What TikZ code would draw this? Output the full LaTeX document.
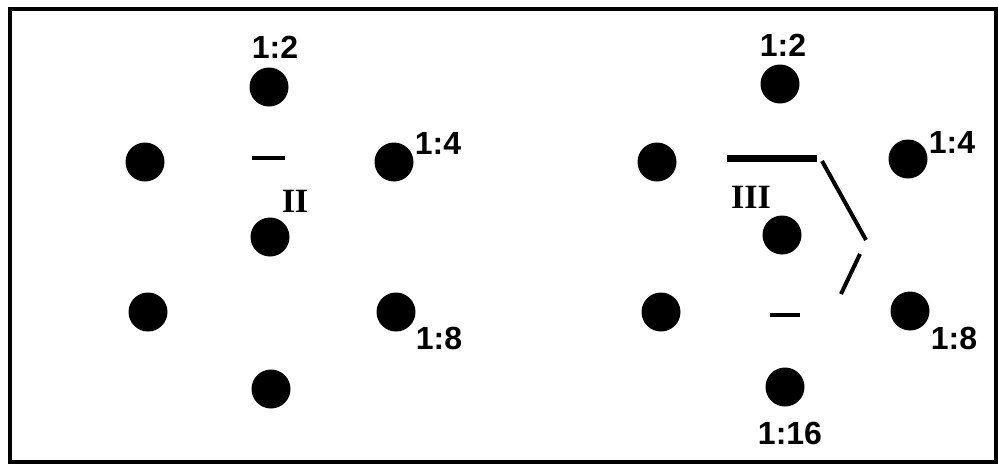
\documentclass[tikz,border=0pt]{standalone}
\usepackage{fontspec}
\setmainfont{Liberation Sans}
\newfontfamily\romfont{Liberation Serif}
\usetikzlibrary{positioning}

\begin{document}
\begin{tikzpicture}[x=0.5pt,y=-0.5pt,
  spot/.style={circle,fill=black,inner sep=0pt,minimum size=19.5pt},
  ratio/.style={font={\bfseries\fontsize{16}{18}\selectfont},inner sep=0pt},
  numeral/.style={font={\romfont\bfseries\fontsize{17}{18}\selectfont},inner sep=0pt},
  bar/.style={line width=2pt}]
\useasboundingbox (0,0) rectangle (998,467);
\draw[line width=2pt] (10,9) rectangle (996,462);
% left pattern
\node[spot] (ltop) at (269,87) {};
\node[spot] (lul) at (145,162) {};
\node[spot] (lur) at (394,162) {};
\node[spot] (lmid) at (270,237) {};
\node[spot] (lll) at (148,312) {};
\node[spot] (llr) at (396,312) {};
\node[spot] (lbot) at (271,389) {};
\node[ratio] (ltoplab) at (275,47) {1:2};
\node[ratio] (lurlab) at (438,143) {1:4};
\node[ratio] (llrlab) at (439,338) {1:8};
\node[numeral] (lnum) at (295,201) {II};
\draw[bar] (252,158) -- (285,158);
% right pattern
\node[spot] (rtop) at (780,84) {};
\node[spot] (rul) at (657,162) {};
\node[spot] (rur) at (908,159) {};
\node[spot] (rmid) at (782,235) {};
\node[spot] (rll) at (661,312) {};
\node[spot] (rlr) at (910,311) {};
\node[spot] (rbot) at (785,387) {};
\node[ratio] (rtoplab) at (783,45) {1:2};
\node[ratio] (rurlab) at (952,142) {1:4};
\node[ratio] (rlrlab) at (954,338) {1:8};
\node[ratio] (rbotlab) at (790,433) {1:16};
\node[numeral] (rnum) at (751,197) {III};
\draw[line width=3.5pt] (727,158) -- (817,158);
\draw[bar] (822,161) -- (866,240);
\draw[bar] (860,254) -- (841,294);
\draw[line width=1.6pt] (770,315) -- (800,315);
\end{tikzpicture}
\end{document}
